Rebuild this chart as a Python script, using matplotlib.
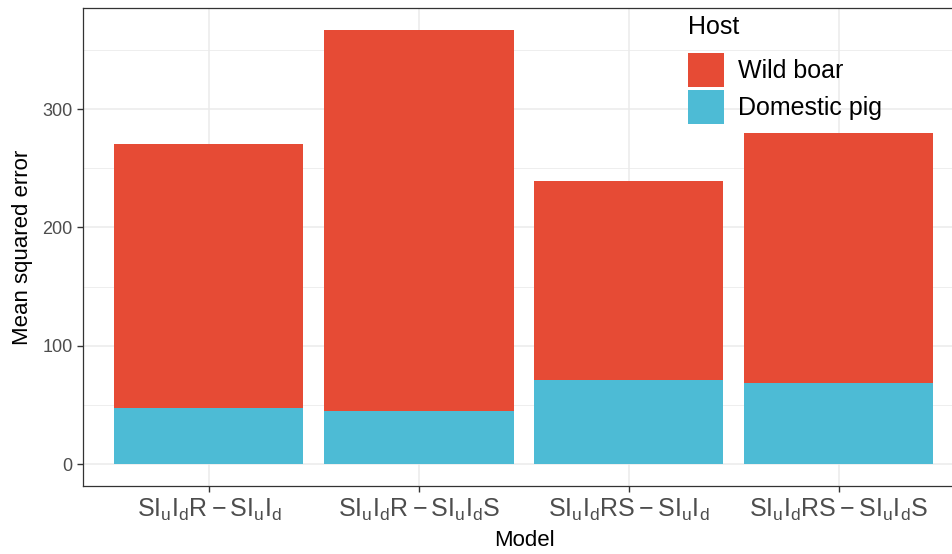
import matplotlib
matplotlib.use("Agg")
import matplotlib.pyplot as plt
from matplotlib.patches import Patch
from matplotlib.ticker import MultipleLocator

models = [r"$\mathrm{SI_uI_dR-SI_uI_d}$",
          r"$\mathrm{SI_uI_dR-SI_uI_dS}$",
          r"$\mathrm{SI_uI_dRS-SI_uI_d}$",
          r"$\mathrm{SI_uI_dRS-SI_uI_dS}$"]
domestic_pig = [47.5, 45, 71.5, 68.5]
wild_boar = [223, 322, 167.5, 211]
hosts = ["Wild boar", "Domestic pig"]
colors = ["#E64B35", "#4DBBD5"]

plt.rcParams["font.family"] = ["Liberation Sans", "DejaVu Sans"]
plt.rcParams["mathtext.fontset"] = "custom"
plt.rcParams["mathtext.rm"] = "Liberation Sans"
plt.rcParams["mathtext.it"] = "Liberation Sans:italic"

fig = plt.figure(figsize=(9.53, 5.54), dpi=100)
ax = fig.add_axes([83 / 953, 68 / 554, 882 / 953, 478 / 554])

x = range(len(models))
ax.bar(x, domestic_pig, width=0.9, color=colors[1], zorder=3)
ax.bar(x, wild_boar, width=0.9, bottom=domestic_pig, color=colors[0], zorder=3)

ax.set_xlim(-0.6, 3.6)
ax.set_ylim(-18.35, 385.35)
ax.set_xticks(list(x))
ax.set_xticklabels(models, fontsize=18, color="#4D4D4D")
ax.yaxis.set_major_locator(MultipleLocator(100))
ax.yaxis.set_minor_locator(MultipleLocator(50))
ax.tick_params(axis="y", labelsize=13, labelcolor="#4D4D4D")
ax.tick_params(which="major", length=4, width=1, color="#333333")
ax.tick_params(which="minor", length=0)
ax.grid(which="major", color="#EBEBEB", linewidth=1.1, zorder=0)
ax.grid(which="minor", axis="y", color="#EBEBEB", linewidth=0.6, zorder=0)
ax.set_axisbelow(True)
for s in ax.spines.values():
    s.set_color("#333333")
    s.set_linewidth(0.9)

ax.set_xlabel("Model", fontsize=16, labelpad=5)
ax.set_ylabel("Mean squared error", fontsize=16, labelpad=7)

# legend title drawn separately so the gap under it can be set freely
fig.text(688 / 953, 1 - 27 / 554, "Host", fontsize=18, va="center", ha="left")
handles = [Patch(facecolor=c, edgecolor="none") for c in colors]
ax.legend(handles, hosts, loc="upper left",
          bbox_to_anchor=(688 / 953, 1 - 53 / 554), bbox_transform=fig.transFigure,
          frameon=False, fontsize=18, borderpad=0,
          handlelength=1.44, handleheight=1.72, handletextpad=0.56,
          labelspacing=0.12, borderaxespad=0)

fig.savefig("out.png", dpi=100)
